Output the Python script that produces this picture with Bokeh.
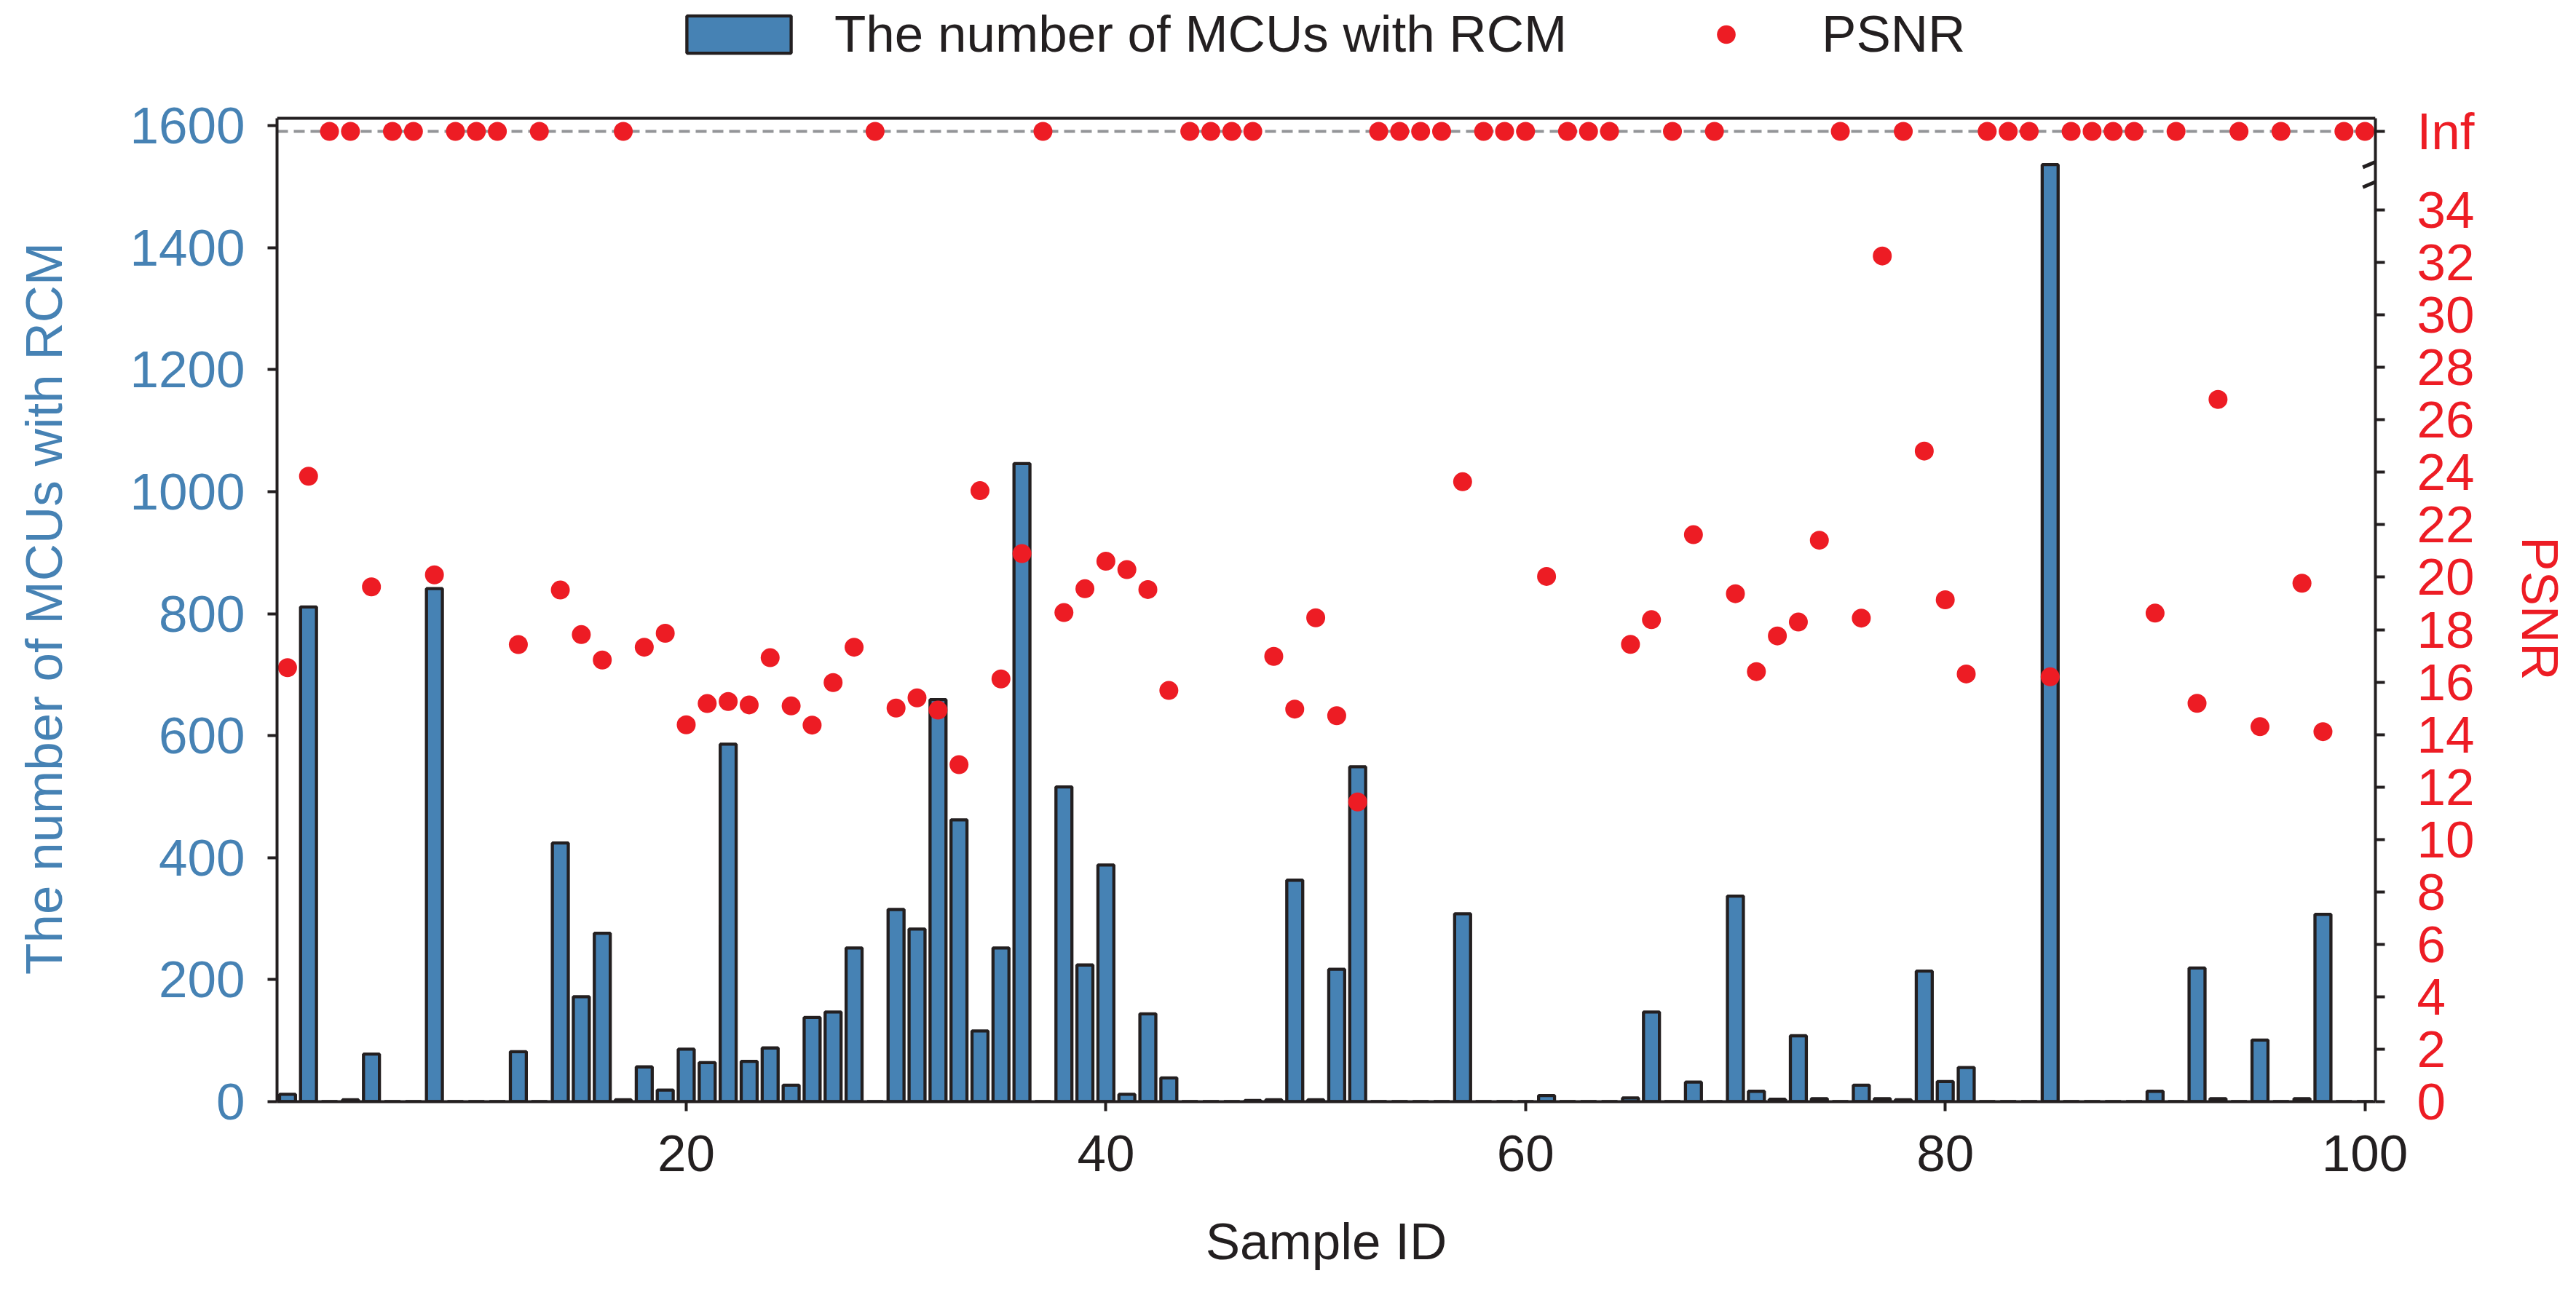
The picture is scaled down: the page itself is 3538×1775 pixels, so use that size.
import math
from bokeh.plotting import figure
from bokeh.models import (Range1d, LinearAxis, FixedTicker, Span, Legend, LegendItem,
                          Arrow, ColumnDataSource)
from bokeh.embed import file_html
from bokeh.resources import INLINE

# ---------------- data ----------------
sample_id = list(range(1, 101))

mcu_rcm = [12, 811, 0, 3, 78, 0, 0, 841, 0, 0,
           0, 82, 0, 424, 172, 276, 3, 57, 19, 86,
           64, 586, 66, 88, 27, 138, 147, 252, 0, 315,
           283, 659, 462, 116, 252, 1046, 0, 516, 224, 388,
           12, 144, 39, 0, 0, 0, 2, 3, 363, 3,
           217, 549, 0, 0, 0, 0, 308, 0, 0, 0,
           10, 0, 0, 0, 6, 147, 0, 32, 0, 337,
           17, 4, 108, 5, 0, 27, 5, 3, 214, 33,
           56, 0, 0, 0, 1536, 0, 0, 0, 0, 17,
           0, 219, 5, 0, 101, 0, 5, 307, 0, 0]

INF = math.inf
psnr = [16.55, 23.85, INF, INF, 19.63, INF, INF, 20.09, INF, INF,
        INF, 17.43, INF, 19.51, 17.81, 16.84, INF, 17.33, 17.86, 14.37,
        15.18, 15.26, 15.13, 16.93, 15.09, 14.36, 15.98, 17.33, INF, 15.01,
        15.40, 14.93, 12.85, 23.30, 16.12, 20.90, INF, 18.65, 19.56, 20.61,
        20.29, 19.53, 15.68, INF, INF, INF, INF, 16.98, 14.97, 18.45,
        14.72, 11.43, INF, INF, INF, INF, 23.64, INF, INF, INF,
        20.03, INF, INF, INF, 17.44, 18.38, INF, 21.62, INF, 19.37,
        16.40, 17.76, 18.29, 21.41, INF, 18.44, 32.25, INF, 24.81, 19.14,
        16.31, INF, INF, INF, 16.20, INF, INF, INF, INF, 18.63,
        INF, 15.19, 26.78, INF, 14.30, INF, 19.77, 14.11, INF, INF]

x_ticks = [20, 40, 60, 80, 100]
left_ticks = [0, 200, 400, 600, 800, 1000, 1200, 1400, 1600]
psnr_ticks = [0, 2, 4, 6, 8, 10, 12, 14, 16, 18, 20, 22, 24, 26, 28, 30, 32, 34]
INF_POS = 37          # where "Inf" sits on the PSNR axis
INF_LABEL = "Inf"
BREAK_MARKS = [35.63, 34.87]   # lower ends of the axis-break slashes (PSNR units)

# ---------------- layout / styling ----------------
FONT = "Liberation Sans"
BLUE = "#4682B4"
RED = "#ED1C24"
DARK = "#231F20"
GRAY = "#939598"

W, H = 3538, 1767
BORDER_L, BORDER_R, BORDER_B = 380, 276, 254
BOX_TOP = 162                      # top spine of the plot box (px from top)
FRAME_H = H - BORDER_B             # frame runs to the top of the canvas
STRETCH = FRAME_H / (FRAME_H - BOX_TOP)
NBSP = "\u00a0"
PAD = NBSP * 8                     # re-centres axis titles on the plot box

X_MIN, X_MAX = 0.5, 100.5
LEFT_MAX = 1612
PSNR_MAX = 37.5

psnr_plot = [INF_POS if math.isinf(v) else v for v in psnr]
src = ColumnDataSource(dict(x=sample_id, mcu=mcu_rcm, psnr=psnr_plot))

p = figure(width=W, height=H, output_backend="svg", toolbar_location=None, title=None,
           x_range=Range1d(X_MIN, X_MAX), y_range=Range1d(0, LEFT_MAX * STRETCH),
           min_border_left=BORDER_L, min_border_right=BORDER_R, min_border_top=0,
           min_border_bottom=BORDER_B)
p.extra_y_ranges = {"psnr": Range1d(0, PSNR_MAX * STRETCH)}
p.background_fill_color = "white"
p.border_fill_color = "white"
p.grid.visible = False
p.outline_line_color = None

# top spine of the plot box
p.add_layout(Span(location=LEFT_MAX, dimension="width", line_color=DARK, line_width=4))
# Inf dashed reference line
p.add_layout(Span(location=INF_POS, dimension="width", y_range_name="psnr",
                  line_color=GRAY, line_width=4, line_dash="15 8", level="underlay"))

bars = p.vbar(x="x", top="mcu", bottom=0, width=0.76, source=src,
              fill_color=BLUE, line_color=DARK, line_width=4.3)
dots = p.scatter(x="x", y="psnr", source=src, y_range_name="psnr", size=26,
                 marker="circle", fill_color=RED, line_color=None)

# axes
def style_axis(ax, color, standoff):
    ax.axis_line_color = DARK
    ax.axis_line_width = 4
    ax.major_tick_line_color = DARK
    ax.major_tick_line_width = 4
    ax.major_tick_out = 13
    ax.major_tick_in = 0
    ax.minor_tick_line_color = None
    ax.major_label_text_font = FONT
    ax.major_label_text_font_size = "71px"
    ax.major_label_text_color = color
    ax.major_label_standoff = standoff
    ax.axis_label_text_font = FONT
    ax.axis_label_text_font_size = "71px"
    ax.axis_label_text_font_style = "normal"
    ax.axis_label_text_color = color

xa = p.xaxis[0]
xa.ticker = FixedTicker(ticks=x_ticks)
style_axis(xa, DARK, 33)
xa.axis_label = "Sample ID"
xa.axis_label_standoff = 54

ya = p.yaxis[0]
ya.ticker = FixedTicker(ticks=left_ticks)
ya.bounds = (0, LEFT_MAX)
style_axis(ya, BLUE, 31)
ya.axis_label = "The number of MCUs with RCM" + PAD
ya.axis_label_standoff = 76

ra = LinearAxis(y_range_name="psnr", ticker=FixedTicker(ticks=psnr_ticks + [INF_POS]),
                major_label_overrides={INF_POS: INF_LABEL}, bounds=(0, PSNR_MAX))
style_axis(ra, RED, 44)
ra.axis_label = PAD + "PSNR"
ra.axis_label_standoff = 48
try:
    ra.axis_label_orientation = "vertical"
except Exception:
    pass
p.add_layout(ra, "right")

legend = Legend(items=[LegendItem(label="The number of MCUs with RCM", renderers=[bars]),
                       LegendItem(label="PSNR", renderers=[dots])],
                orientation="horizontal", location=(545, 1426),
                glyph_width=179, glyph_height=64, label_standoff=42, spacing=129,
                padding=0, margin=0, border_line_color=None, background_fill_alpha=0,
                label_text_font=FONT, label_text_font_size="71px", label_text_color=DARK)
p.add_layout(legend)

# axis break slashes across the right spine
for yb in BREAK_MARKS:
    p.add_layout(Arrow(end=None, x_start=X_MAX - 0.6, y_start=yb,
                       x_end=X_MAX + 0.6, y_end=yb + 0.41, y_range_name="psnr",
                       line_color=DARK, line_width=5))

open("out.html", "w").write(file_html(p, INLINE))
